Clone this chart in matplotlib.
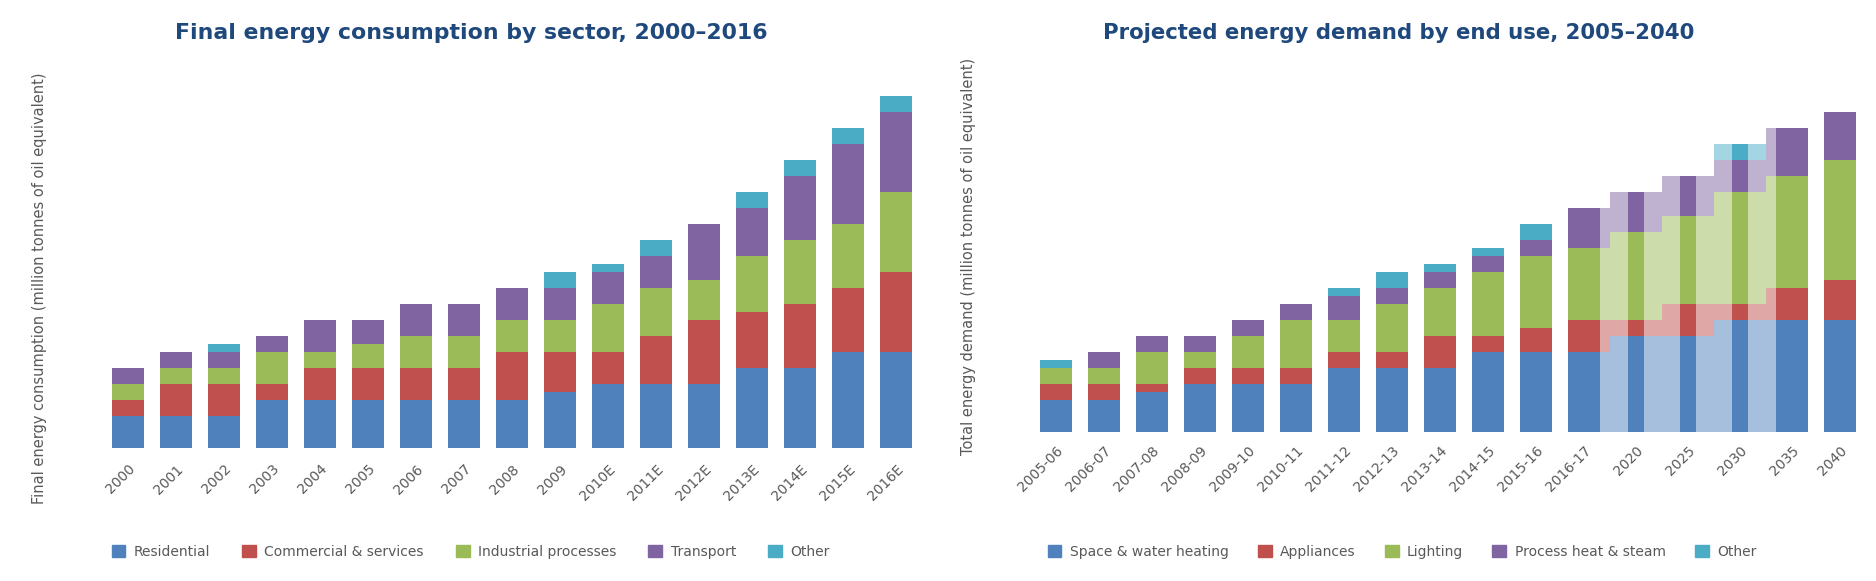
import matplotlib
matplotlib.use("Agg")
import matplotlib.pyplot as plt
import numpy as np
from matplotlib.patches import Patch

# ---------------- data ----------------
left_years = ["2000", "2001", "2002", "2003", "2004", "2005", "2006", "2007", "2008",
              "2009", "2010E", "2011E", "2012E", "2013E", "2014E", "2015E", "2016E"]
left_series = ["Residential", "Commercial & services", "Industrial processes",
               "Transport", "Other"]
left_blue   = [20, 20, 20, 30, 30, 30, 30, 30, 30, 35, 40, 40, 40, 50, 50, 60, 60]
left_red    = [10, 20, 20, 10, 20, 20, 20, 20, 30, 25, 20, 30, 40, 35, 40, 40, 50]
left_green  = [10, 10, 10, 20, 10, 15, 20, 20, 20, 20, 30, 30, 25, 35, 40, 40, 50]
left_purple = [10, 10, 10, 10, 20, 15, 20, 20, 20, 20, 20, 20, 35, 30, 40, 50, 50]
left_cyan   = [0, 0, 5, 0, 0, 0, 0, 0, 0, 10, 5, 10, 0, 10, 10, 10, 10]

right_years = ["2005-06", "2006-07", "2007-08", "2008-09", "2009-10", "2010-11",
               "2011-12", "2012-13", "2013-14", "2014-15", "2015-16", "2016-17",
               "2020", "2025", "2030", "2035", "2040"]
right_series = ["Space & water heating", "Appliances", "Lighting",
                "Process heat & steam", "Other"]
right_blue   = [20, 20, 25, 30, 30, 30, 40, 40, 40, 50, 50, 50, 60, 60, 70, 70, 70]
right_red    = [10, 10, 5, 10, 10, 10, 10, 10, 20, 10, 15, 20, 10, 20, 10, 20, 25]
right_green  = [10, 10, 20, 10, 20, 30, 20, 30, 30, 40, 45, 45, 55, 55, 70, 70, 75]
right_purple = [0, 10, 10, 10, 10, 10, 15, 10, 10, 10, 10, 25, 25, 25, 20, 30, 30]
right_cyan   = [5, 0, 0, 0, 0, 0, 5, 10, 5, 5, 10, 0, 0, 0, 10, 0, 0]

titles = ["Final energy consumption by sector, 2000\u20132016",
          "Projected energy demand by end use, 2005\u20132040"]
ylabels = ["Final energy consumption (million tonnes of oil equivalent)",
           "Total energy demand (million tonnes of oil equivalent)"]

# ---------------- style ----------------
colors = ["#4F81BD", "#C0504D", "#9BBB59", "#8064A2", "#4BACC6"]
title_color = "#1F497D"
text_color = "#595959"
plt.rcParams["font.family"] = ["DejaVu Sans"]

W, H = 1876, 581
fig = plt.figure(figsize=(W / 100, H / 100), dpi=100)

def frac_box(x0, y_top, x1, y_bot):
    return [x0 / W, 1 - y_bot / H, (x1 - x0) / W, (y_bot - y_top) / H]

axL = fig.add_axes(frac_box(92, 64, 932, 448))
axR = fig.add_axes(frac_box(1020, 64, 1867, 432))

def style_axis(ax):
    for s in ax.spines.values():
        s.set_visible(False)
    ax.tick_params(axis="both", length=0)
    ax.set_yticks([])

# ---- left panel ----
xl = np.arange(len(left_years))
stackL = [left_blue, left_red, left_green, left_purple, left_cyan]
bottom = np.zeros(len(xl))
for vals, c in zip(stackL, colors):
    v = np.array(vals, dtype=float)
    axL.bar(xl, v, width=0.667, bottom=bottom, color=c, linewidth=0)
    bottom += v
axL.set_xlim(-0.75, 16.75)
axL.set_ylim(0, 240)
style_axis(axL)
axL.set_xticks(xl)
axL.set_xticklabels(left_years, rotation=45, ha="right", rotation_mode="anchor",
                    fontsize=10, color=text_color)
axL.tick_params(axis="x", pad=10)

# ---- right panel ----
n_r = len(right_years)
n_hist = 12
milestone_step = 52 / 48
pos = list(range(n_hist))
for k in range(1, 5):
    pos.append(n_hist - 1 + k * milestone_step)
pos.append(pos[-1] + 1)
xr = np.array(pos, dtype=float)
widths = np.array([0.667] * n_r)
widths[n_hist:n_hist + 3] = 0.333

stackR = [right_blue, right_red, right_green, right_purple, right_cyan]
bottom = np.zeros(n_r)
sl = slice(n_hist - 1, n_hist + 4)
for vals, c in zip(stackR, colors):
    v = np.array(vals, dtype=float)
    axR.fill_between(xr[sl], bottom[sl], (bottom + v)[sl], step="mid",
                     color=c, alpha=0.5, linewidth=0, zorder=1)
    axR.bar(xr, v, width=widths, bottom=bottom, color=c, linewidth=0, zorder=2)
    bottom += v
axR.set_xlim(-0.75, 16.9)
axR.set_ylim(0, 230)
style_axis(axR)
axR.set_xticks(xr)
axR.set_xticklabels(right_years, rotation=45, ha="right", rotation_mode="anchor",
                    fontsize=10, color=text_color)
axR.tick_params(axis="x", pad=8)

# ---- titles, y labels ----
fig.text(471 / W, 1 - 33 / H, titles[0], ha="center", va="center",
         fontsize=15.8, fontweight="bold", color=title_color)
fig.text(1399 / W, 1 - 33 / H, titles[1], ha="center", va="center",
         fontsize=15.3, fontweight="bold", color=title_color)
fig.text(40 / W, 1 - 288 / H, ylabels[0], rotation=90, ha="center", va="center",
         fontsize=10.5, color=text_color)
fig.text(968 / W, 1 - 256 / H, ylabels[1], rotation=90, ha="center", va="center",
         fontsize=10.5, color=text_color)

# ---- legends ----
hL = [Patch(color=c) for c in colors]
fig.legend(hL, left_series, loc="center left", bbox_to_anchor=(99 / W, 1 - 552 / H),
           ncol=5, frameon=False, fontsize=10, handlelength=1.0, handleheight=1.0,
           columnspacing=2.3, handletextpad=0.6, labelcolor=text_color)
fig.legend(hL, right_series, loc="center left", bbox_to_anchor=(1035 / W, 1 - 552 / H),
           ncol=5, frameon=False, fontsize=10, handlelength=1.0, handleheight=1.0,
           columnspacing=2.1, handletextpad=0.6, labelcolor=text_color)

fig.savefig("out.png", dpi=100)
